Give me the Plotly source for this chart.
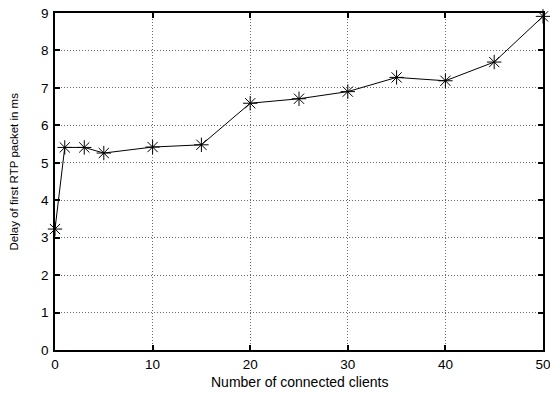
import plotly.graph_objects as go

clients = [0, 1, 3, 5, 10, 15, 20, 25, 30, 35, 40, 45, 50]
delay_ms = [3.23, 5.41, 5.41, 5.26, 5.42, 5.48, 6.59, 6.71, 6.90, 7.28, 7.19, 7.69, 8.91]

x_ticks = [0, 10, 20, 30, 40, 50]
y_ticks = [0, 1, 2, 3, 4, 5, 6, 7, 8, 9]

FONT = "Liberation Sans, Arial, sans-serif"

fig = go.Figure()
fig.add_trace(go.Scatter(
    x=clients, y=delay_ms, mode="lines+markers",
    line=dict(color="black", width=1),
    marker=dict(symbol="asterisk-open", size=12, color="black",
                line=dict(color="black", width=1)),
    showlegend=False, cliponaxis=False,
))

axis_common = dict(
    showline=True, linecolor="black", linewidth=1.5, mirror="ticks",
    ticks="inside", ticklen=5, tickcolor="black", tickwidth=1.5,
    showgrid=True, gridcolor="#6a6a6a", griddash="1px,2px", gridwidth=1,
    zeroline=False, automargin=False, ticklabeloverflow="allow",
    tickfont=dict(family=FONT, size=13.5, color="black"),
)

fig.update_xaxes(range=[0, 50], tickvals=x_ticks, ticktext=[str(v) for v in x_ticks],
                 ticklabelstandoff=1, **axis_common)
fig.update_yaxes(range=[0, 9], tickvals=y_ticks, ticktext=[str(v) for v in y_ticks],
                 ticklabelstandoff=2, **axis_common)

fig.add_annotation(text="Number of connected clients", xref="paper", yref="paper",
                   x=0.5, y=0, yshift=-22, xanchor="center", yanchor="top",
                   showarrow=False, font=dict(family=FONT, size=14, color="black"))
fig.add_annotation(text="Delay of first RTP packet in ms", xref="paper", yref="paper",
                   x=0, y=0.5, xshift=-42, yshift=10, xanchor="center", yanchor="middle",
                   textangle=-90,
                   showarrow=False, font=dict(family=FONT, size=11.5, color="black"))

fig.update_layout(
    width=550, height=394,
    margin=dict(l=55, r=7, t=13, b=44),
    plot_bgcolor="white", paper_bgcolor="white",
    font=dict(family=FONT, color="black"),
)

fig.write_html("out.html", config={"displayModeBar": False},
               post_script="document.body.style.margin='0';")
